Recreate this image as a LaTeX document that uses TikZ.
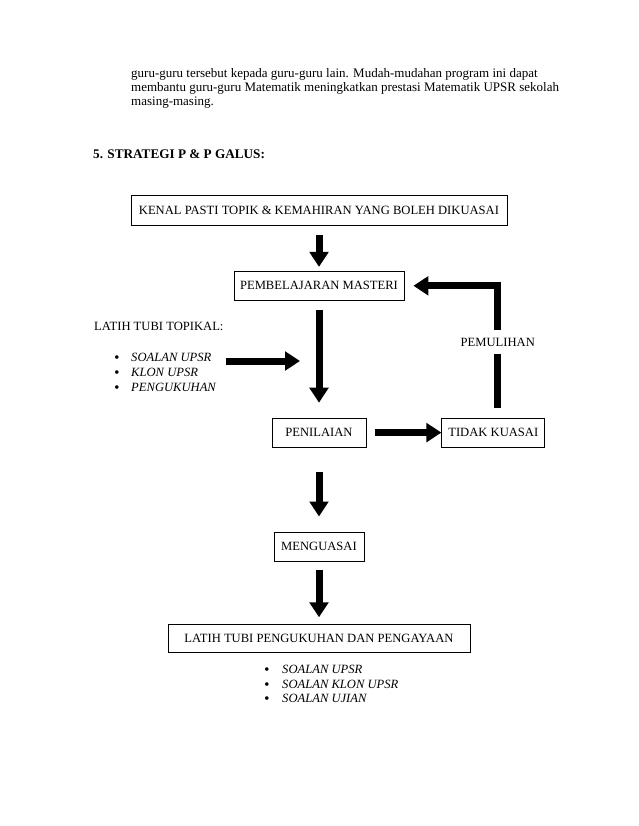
\documentclass[tikz,border=0pt]{standalone}
\usepackage{fontspec}
\setmainfont{Liberation Serif}
\usetikzlibrary{positioning, arrows.meta}

\newcommand{\bigdot}{\makebox[0pt][l]{\smash{\raisebox{-1.2pt}{\fontsize{15}{15}\selectfont\textbullet}}}}

\begin{document}
\begin{tikzpicture}[x=1pt,y=-1pt,
    fat/.style={line width=7pt,-{Triangle[width=18.5pt,length=15pt]}},
    box/.style={draw,line width=0.8pt,minimum height=29pt,inner sep=0pt,font=\fontsize{12.6}{14}\selectfont},
    plain/.style={inner sep=0pt,anchor=base west,font=\fontsize{12.6}{14}\selectfont},
    body/.style={plain,font=\fontsize{13}{14}\selectfont},
    item/.style={plain,font=\fontsize{12.6}{14}\selectfont\itshape}]

\path[fill=white] (0,0) rectangle (638,826);
\useasboundingbox (0,0) rectangle (638,826);

\node[body] (L1) at (131,78) {guru-guru tersebut kepada guru-guru lain. Mudah-mudahan program ini dapat};
\node[body] (L2) at (131,92) {membantu guru-guru Matematik meningkatkan prestasi Matematik UPSR sekolah};
\node[body] (L3) at (131,106) {masing-masing.};
\node[plain, font=\fontsize{13.2}{14}\selectfont\bfseries] (HEAD) at (93,159) {5. STRATEGI P \& P GALUS:};

\node[box, minimum width=376pt, minimum height=30pt] (KENAL) at (319,210.5) {KENAL PASTI TOPIK \& KEMAHIRAN YANG BOLEH DIKUASAI};
\node[box, minimum width=170pt] (MASTERI)   [below=45pt of KENAL]   {PEMBELAJARAN MASTERI};
\node[box, minimum width=94pt]  (PENILAIAN) [below=117pt of MASTERI] {PENILAIAN};
\node[box, minimum width=103pt] (TIDAK)     [right=75pt of PENILAIAN] {TIDAK KUASAI};
\node[box, minimum width=90pt]  (KUASAI)    [below=84pt of PENILAIAN] {MENGUASAI};
\node[box, minimum width=302pt, minimum height=28pt] (LATIH) [below=63pt of KUASAI] {LATIH TUBI PENGUKUHAN DAN PENGAYAAN};

\node[plain] (TOPIKAL) at (94,330) {LATIH TUBI TOPIKAL:};
\node[item] (T1) at (114,361) {\bigdot\hspace{17pt}SOALAN UPSR};
\node[item] (T2) at (114,376) {\bigdot\hspace{17pt}KLON UPSR};
\node[item] (T3) at (114,391) {\bigdot\hspace{17pt}PENGUKUHAN};
\coordinate (TIP) at (300,361);

\node[item] (B1) at (264,673) {\bigdot\hspace{18pt}SOALAN UPSR};
\node[item] (B2) at (264,688) {\bigdot\hspace{18pt}SOALAN KLON UPSR};
\node[item] (B3) at (264,702) {\bigdot\hspace{18pt}SOALAN UJIAN};

\draw[fat, shorten <=9pt, shorten >=4pt] (KENAL) -- (MASTERI);
\draw[fat, shorten <=9pt, shorten >=15pt] (MASTERI) -- (PENILAIAN);
\draw[fat, shorten <=24pt, shorten >=15pt] (PENILAIAN) -- (KUASAI);
\draw[fat, shorten <=9pt, shorten >=7pt] (KUASAI) -- (LATIH);
\draw[fat, shorten <=9pt] (PENILAIAN) -- (TIDAK);
\draw[fat, shorten <=14pt] (T1.east |- TIP) -- (TIP);
\draw[fat, shorten <=10pt, shorten >=9pt] ([xshift=4.5pt]TIDAK.north) |- (MASTERI.east)
    node[pos=0.286, fill=white, inner xsep=1pt, inner ysep=8pt, font=\fontsize{12.6}{14}\selectfont] (PEMULIHAN) {PEMULIHAN};

\end{tikzpicture}
\end{document}
